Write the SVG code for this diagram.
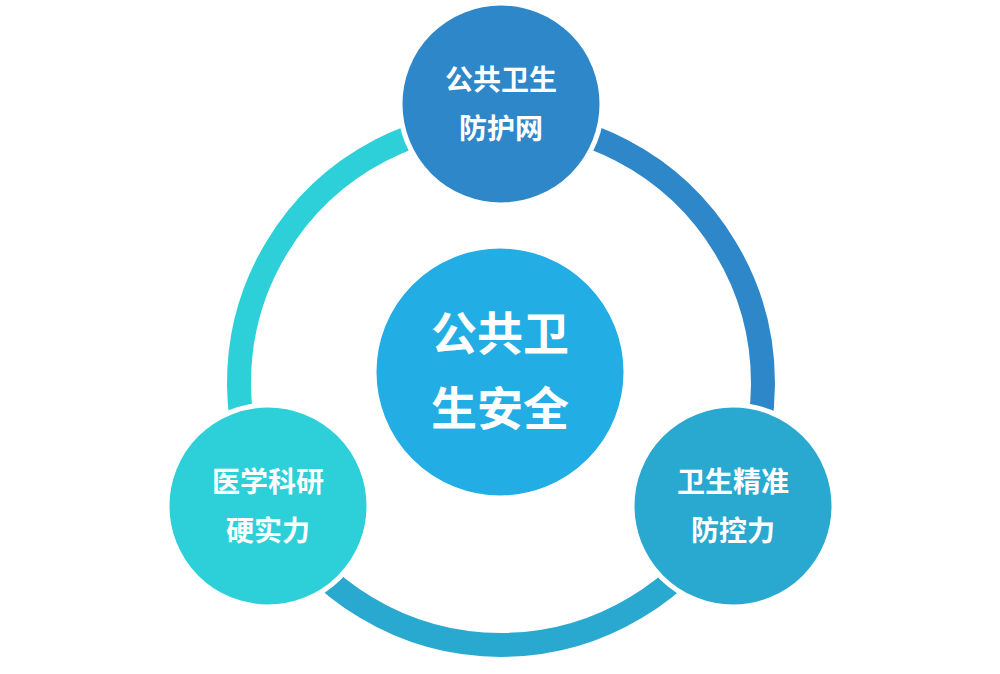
<svg xmlns="http://www.w3.org/2000/svg" width="1000" height="674" viewBox="0 0 1000 674">
<style>
.arc{fill:none;stroke-width:24}
.n{stroke:#fff;stroke-width:5}
.t{fill:#fff;font-family:"Noto Sans CJK SC",sans-serif;font-weight:bold;text-anchor:middle}
.s{font-size:28px}.b{font-size:46px}
</style>
<rect width="1000" height="674" fill="#fff"/>
<g id="connectors">
<path class="arc" stroke="#2e87c8" d="M501,121 A262,262 0 0 1 732.3,506"/>
<path class="arc" stroke="#2aa9d0" d="M732.3,506 A262,262 0 0 1 269.7,506"/>
<path class="arc" stroke="#2dd0d8" d="M269.7,506 A262,262 0 0 1 501,121"/>
</g>
<g id="center"><circle class="n" cx="500" cy="372" r="126" fill="#22aee4"/>
<text class="t b" x="500" y="350">公共卫</text><text class="t b" x="500" y="425">生安全</text></g>
<g id="top"><circle class="n" cx="501" cy="104" r="101" fill="#2e87c8"/>
<text class="t s" x="501" y="90">公共卫生</text><text class="t s" x="501" y="139">防护网</text></g>
<g id="left"><circle class="n" cx="268" cy="506" r="101" fill="#2dd0d8"/>
<text class="t s" x="268" y="492">医学科研</text><text class="t s" x="268" y="541">硬实力</text></g>
<g id="right"><circle class="n" cx="733" cy="506" r="101" fill="#2aa9d0"/>
<text class="t s" x="733" y="492">卫生精准</text><text class="t s" x="733" y="541">防控力</text></g>
</svg>
